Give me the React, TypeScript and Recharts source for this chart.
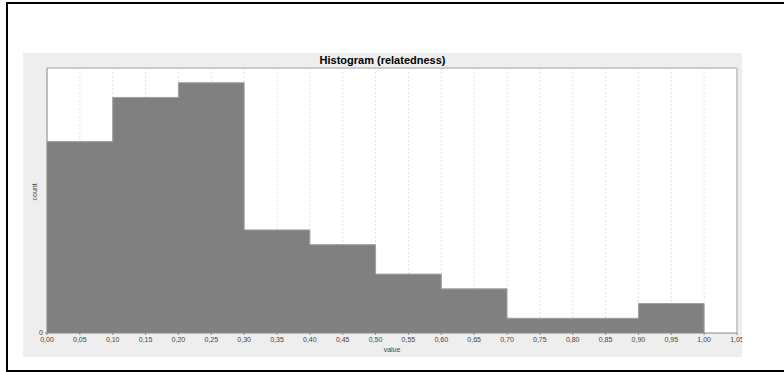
import {
  ComposedChart,
  Area,
  XAxis,
  YAxis,
  CartesianGrid,
  ReferenceLine,
} from 'recharts';

// ─── Data ─────────────────────────────────

// left edge of each 0.1-wide bin, plus the closing edge at 1.0
const binStarts = [0, 0.1, 0.2, 0.3, 0.4, 0.5, 0.6, 0.7, 0.8, 0.9, 1.0];
const counts = [13, 16, 17, 7, 6, 4, 3, 1, 1, 2, 0];

const xTicks = [
  0, 0.05, 0.1, 0.15, 0.2, 0.25, 0.3, 0.35, 0.4, 0.45, 0.5,
  0.55, 0.6, 0.65, 0.7, 0.75, 0.8, 0.85, 0.9, 0.95, 1.0, 1.05,
];
const yTicks = [0];

const data = binStarts.map((x, i) => ({ x, count: counts[i] }));

const fmt = (v: number) => v.toFixed(2).replace('.', ',');

const FONT = '"Liberation Sans", Arial, sans-serif';

export default function App() {
  return (
    <div
      style={{
        position: 'absolute',
        left: 0,
        top: 0,
        width: 784,
        height: 372,
        background: '#fff',
        overflow: 'hidden',
        fontFamily: FONT,
      }}
    >
      {/* black frame, open to the right */}
      <div
        style={{
          position: 'absolute',
          left: 6,
          top: 2,
          width: 820,
          height: 366,
          borderLeft: '2px solid #000',
          borderTop: '2px solid #000',
          borderBottom: '2px solid #000',
        }}
      />

      {/* chart panel */}
      <div
        style={{
          position: 'absolute',
          left: 23,
          top: 53,
          width: 719,
          height: 304,
          background: '#eeeeee',
        }}
      >
        <div
          style={{
            position: 'absolute',
            top: 1,
            width: '100%',
            textAlign: 'center',
            fontSize: 11,
            fontWeight: 'bold',
            color: '#000',
          }}
        >
          Histogram (relatedness)
        </div>

        <ComposedChart
          width={719}
          height={304}
          data={data}
          margin={{ top: 15, right: 5, left: 0, bottom: 0 }}
        >
          <CartesianGrid
            horizontal={false}
            strokeDasharray="2 2"
            stroke="#e2e2e2"
            fill="#ffffff"
            verticalValues={xTicks}
          />
          <XAxis
            dataKey="x"
            type="number"
            domain={[0, 1.05]}
            ticks={xTicks}
            tickFormatter={fmt}
            interval={0}
            height={24}
            tick={{ fontSize: 7, fill: '#444', fontFamily: FONT }}
            tickSize={2}
            tickLine={{ stroke: '#888' }}
            axisLine={{ stroke: '#888' }}
            label={{ value: 'value', position: 'insideBottom', offset: 5, fontSize: 7, fill: '#444' }}
          />
          <YAxis
            type="number"
            domain={[0, 18]}
            ticks={yTicks}
            width={24}
            tick={{ fontSize: 7, fill: '#444', fontFamily: FONT }}
            tickSize={2}
            tickLine={{ stroke: '#888' }}
            axisLine={{ stroke: '#888' }}
            label={{ value: 'count', angle: -90, position: 'insideLeft', offset: 12, fontSize: 7, fill: '#444' }}
          />
          <ReferenceLine y={18} stroke="#cccccc" strokeWidth={2} />
          <ReferenceLine x={1.05} stroke="#cccccc" strokeWidth={2} />
          <Area
            type="stepAfter"
            dataKey="count"
            stroke="#a0a0a0"
            strokeWidth={1}
            fill="#808080"
            fillOpacity={1}
            baseValue={0}
            isAnimationActive={false}
            dot={false}
            activeDot={false}
          />
        </ComposedChart>
      </div>
    </div>
  );
}
